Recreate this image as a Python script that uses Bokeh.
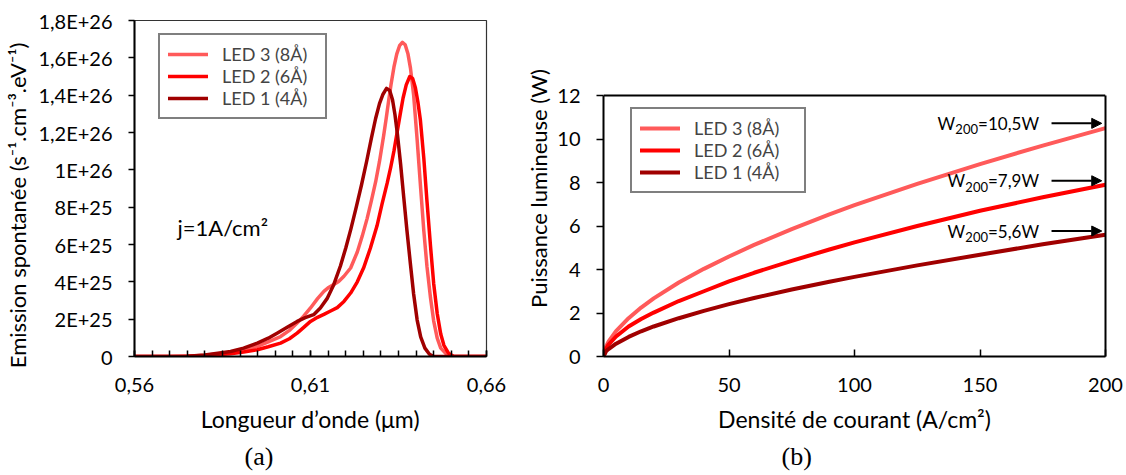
from bokeh.plotting import figure
from bokeh.layouts import row
from bokeh.models import (FixedTicker, CustomJSTickFormatter, Label, Legend, LegendItem,
                          Arrow, NormalHead, Range1d, Span, LinearAxis, Title)
from bokeh.embed import file_html
from bokeh.resources import INLINE

FONT = "Lato"
SERIF = "Liberation Serif"

# ---------------- data ----------------
series_names = ["LED 3 (8Å)", "LED 2 (6Å)", "LED 1 (4Å)"]
colors = ["#FF5A5A", "#FF0000", "#A00000"]

# panel (a): spontaneous emission vs wavelength, values in units of 1E+25
wl_led3 = [0.560, 0.570, 0.575, 0.580, 0.5873, 0.591, 0.5949, 0.598, 0.6015, 0.604, 0.6062,
           0.608, 0.6100, 0.612, 0.6138, 0.615, 0.6166, 0.6180, 0.6195, 0.6214, 0.6233,
           0.6247, 0.6261, 0.6273, 0.6285, 0.6296, 0.6308, 0.6315, 0.6322, 0.6329, 0.6337,
           0.6345, 0.6353, 0.6361, 0.6369, 0.6377, 0.6384, 0.6393, 0.6403, 0.6413, 0.6422,
           0.6431, 0.6441, 0.6450, 0.6460, 0.6470, 0.6488, 0.6500, 0.6510, 0.660]
em_led3 = [0.0, 0.0, 0.02, 0.07, 0.22, 0.35, 0.54, 0.78, 1.07, 1.40, 1.79,
           2.15, 2.60, 3.10, 3.49, 3.68, 3.85, 4.02, 4.30, 4.74, 5.60,
           6.45, 7.40, 8.35, 9.35, 10.45, 11.85, 12.75, 13.70, 14.60, 15.50,
           16.20, 16.65, 16.83, 16.70, 16.20, 15.45, 14.00, 11.60, 9.00, 6.72,
           4.80, 3.13, 1.90, 0.98, 0.45, 0.09, 0.02, 0.0, 0.0]

wl_led2 = [0.560, 0.570, 0.575, 0.580, 0.5873, 0.591, 0.5949, 0.598, 0.6015, 0.604, 0.6062,
           0.608, 0.6100, 0.612, 0.6138, 0.6157, 0.6176, 0.6195, 0.6214, 0.6233, 0.6251,
           0.6270, 0.6289, 0.6303, 0.6318, 0.6328, 0.6337, 0.6346, 0.6355, 0.6363, 0.6372,
           0.6382, 0.6390, 0.6398, 0.6405, 0.6412, 0.6422, 0.6431, 0.6441, 0.6450, 0.6460,
           0.6470, 0.6479, 0.6492, 0.6507, 0.660]
em_led2 = [0.0, 0.0, 0.01, 0.04, 0.15, 0.24, 0.36, 0.52, 0.72, 0.95, 1.25,
           1.55, 1.88, 2.10, 2.26, 2.44, 2.62, 2.95, 3.40, 4.00, 4.75,
           5.80, 7.00, 8.15, 9.30, 10.15, 11.00, 12.00, 13.00, 13.85, 14.55,
           15.00, 14.90, 14.40, 13.65, 12.70, 10.60, 8.30, 5.90, 3.90, 2.30,
           1.20, 0.60, 0.18, 0.0, 0.0]

wl_led1 = [0.560, 0.570, 0.575, 0.580, 0.5873, 0.591, 0.5949, 0.598, 0.6005, 0.6035, 0.6062,
           0.6085, 0.6109, 0.6128, 0.6147, 0.6166, 0.6185, 0.6200, 0.6215, 0.6230, 0.6245,
           0.6260, 0.6273, 0.6285, 0.6296, 0.6306, 0.6316, 0.6325, 0.6333, 0.6340, 0.6347,
           0.6356, 0.6365, 0.6374, 0.6384, 0.6393, 0.6403, 0.6413, 0.6425, 0.6438, 0.6450,
           0.660]
em_led1 = [0.0, 0.0, 0.02, 0.08, 0.27, 0.45, 0.72, 0.98, 1.25, 1.58, 1.88,
           2.08, 2.24, 2.60, 3.10, 3.85, 4.85, 5.80, 6.85, 8.00, 9.20,
           10.50, 11.70, 12.75, 13.55, 14.05, 14.36, 14.25, 13.75, 12.95, 11.90,
           10.30, 8.51, 6.75, 4.93, 3.35, 1.95, 1.05, 0.45, 0.12, 0.0,
           0.0]

x_ticks_a = [0.56, 0.61, 0.66]
y_ticks_a = [0, 2, 4, 6, 8, 10, 12, 14, 16, 18]
y_labels_a = ["0", "2E+25", "4E+25", "6E+25", "8E+25", "1E+26", "1,2E+26", "1,4E+26",
              "1,6E+26", "1,8E+26"]

# panel (b): light power vs current density
j_density = [0, 1, 2, 5, 10, 15, 20, 30, 40, 50, 60, 75, 90, 100, 125, 150, 175, 200]
p_led3 = [0.0, 0.45, 0.68, 1.17, 1.76, 2.25, 2.67, 3.40, 4.03, 4.60, 5.13, 5.86, 6.54, 6.96,
          7.94, 8.85, 9.70, 10.50]
p_led2 = [0.0, 0.35, 0.55, 0.92, 1.38, 1.72, 2.02, 2.55, 3.00, 3.45, 3.85, 4.40, 4.92, 5.25,
          6.00, 6.70, 7.32, 7.90]
p_led1 = [0.0, 0.24, 0.34, 0.59, 0.90, 1.16, 1.38, 1.76, 2.10, 2.41, 2.69, 3.08, 3.44, 3.66,
          4.19, 4.68, 5.16, 5.60]
w200_values = ["10,5", "7,9", "5,6"]

x_ticks_b = [0, 50, 100, 150, 200]
y_ticks_b = [0, 2, 4, 6, 8, 10, 12]

TOP = 20
BOTTOM = 119
HEIGHT = 475


def style_axes(p):
    p.xgrid.visible = False
    p.ygrid.visible = False
    for ax in (p.xaxis[0], p.yaxis[0]):
        ax.axis_line_width = 2
        ax.axis_line_color = "black"
        ax.major_tick_line_width = 1.5
        ax.major_tick_line_color = "black"
        ax.minor_tick_line_width = 1.5
        ax.minor_tick_line_color = "black"
        ax.major_label_text_font = FONT
        ax.major_label_text_font_size = "20px"
        ax.major_label_text_color = "black"
        ax.axis_label_text_font = FONT
        ax.axis_label_text_font_size = "23px"
        ax.axis_label_text_font_style = "normal"
        ax.axis_label_text_color = "black"
    p.xaxis.major_tick_in = 6
    p.xaxis.major_tick_out = 0
    p.xaxis.minor_tick_in = 6
    p.xaxis.minor_tick_out = 0
    p.xaxis.major_label_standoff = 21
    p.xaxis.axis_label_standoff = 10
    p.yaxis.major_tick_in = 0
    p.yaxis.major_tick_out = 6
    p.yaxis.minor_tick_in = 0
    p.yaxis.minor_tick_out = 0
    p.yaxis.major_label_standoff = 16


def make_legend(items, loc, label_width):
    lg = Legend(items=items, location=loc)
    lg.border_line_color = "black"
    lg.border_line_width = 2
    lg.label_text_font = FONT
    lg.label_text_font_size = "18px"
    lg.glyph_width = 40
    lg.glyph_height = 18
    lg.label_height = 18
    lg.label_width = label_width
    lg.label_standoff = 14
    lg.spacing = -4
    lg.padding = 8
    lg.margin = 0
    lg.background_fill_alpha = 1
    return lg


def caption(p, text, offset):
    t = Title(text=text, align="left", offset=offset, text_font=SERIF, text_font_size="26px",
              text_font_style="normal", text_color="black", standoff=8)
    p.add_layout(t, "below")


# ---------------- panel (a) ----------------
pa = figure(width=511, height=HEIGHT, x_range=Range1d(0.56, 0.66), y_range=Range1d(0, 18),
            output_backend="svg", toolbar_location=None,
            min_border_left=134, min_border_right=25, min_border_top=TOP,
            min_border_bottom=BOTTOM)
pa.outline_line_color = "#333333"
pa.outline_line_width = 1.2
style_axes(pa)
pa.xaxis.ticker = FixedTicker(ticks=x_ticks_a,
                              minor_ticks=[0.56 + 0.005 * i for i in range(21)])
pa.xaxis.formatter = CustomJSTickFormatter(code="return tick.toFixed(2).replace('.', ',');")
pa.yaxis.ticker = FixedTicker(ticks=y_ticks_a)
pa.yaxis.formatter = CustomJSTickFormatter(args=dict(labels=y_labels_a),
                                           code="return labels[Math.round(tick / 2)];")
pa.xaxis.axis_label = "Longueur d’onde (μm)"
# trailing no-break spaces push the visible label slightly lower, as in the reference
pa.yaxis.axis_label = "Emission spontanée (s⁻¹.cm⁻³.eV⁻¹)" + "\u00a0" * 6
pa.yaxis.axis_label_text_font_size = "22px"
pa.yaxis.axis_label_standoff = 4

ra = []
for wl, em, c in zip([wl_led3, wl_led2, wl_led1], [em_led3, em_led2, em_led1], colors):
    ra.append(pa.line(wl, em, line_color=c, line_width=3.5, line_join="round", line_cap="round"))

pa.add_layout(make_legend([LegendItem(label=n, renderers=[r]) for n, r in zip(series_names, ra)],
                          (24, 237), 95))
pa.add_layout(Label(x=0.5722, y=6.9, text="j=1A/cm²", text_baseline="middle",
                    text_font=FONT, text_font_size="22px", text_color="black"))
caption(pa, "(a)", 110)

# ---------------- panel (b) ----------------
# the frame spans the same height as panel (a); the visible box ends at 12 W
pb = figure(width=615, height=HEIGHT, x_range=Range1d(0, 200), y_range=Range1d(0, 15.45),
            output_backend="svg", toolbar_location=None,
            min_border_left=92, min_border_right=21, min_border_top=TOP,
            min_border_bottom=BOTTOM)
pb.outline_line_color = None
style_axes(pb)
pb.xaxis.ticker = FixedTicker(ticks=x_ticks_b)
pb.yaxis.ticker = FixedTicker(ticks=y_ticks_b)
pb.yaxis.bounds = (0, 12)
pb.xaxis.major_tick_in = 7
pb.yaxis.major_tick_out = 7
pb.xaxis.axis_label = "Densité de courant (A/cm²)"
pb.yaxis.axis_label = "Puissance lumineuse (W)"
pb.yaxis.axis_label_text_font_size = "22px"
pb.yaxis.axis_label_standoff = 2

right_ax = LinearAxis(bounds=(0, 12), ticker=FixedTicker(ticks=[]), axis_line_width=2,
                      axis_line_color="black", major_tick_out=0, major_tick_in=0,
                      minor_tick_out=0, minor_tick_in=0, major_label_text_font_size="0px")
pb.add_layout(right_ax, "right")
pb.add_layout(Span(location=12, dimension="width", line_color="black", line_width=2))

rb = []
for pw, c in zip([p_led3, p_led2, p_led1], colors):
    rb.append(pb.line(j_density, pw, line_color=c, line_width=4, line_join="round",
                      line_cap="round"))

pb.add_layout(make_legend([LegendItem(label=n, renderers=[r]) for n, r in zip(series_names, rb)],
                          (27, 163), 102))

# W200 annotations: main text, lowered "200" subscript and leading "W"
ann_y = [10.72, 8.08, 5.77]
ann_tail_w = [61, 51, 51]   # approx. pixel width of the "=...W" part
for v, yy, tw in zip(w200_values, ann_y, ann_tail_w):
    common = dict(y=yy, x=173.5, text_align="right", text_baseline="middle",
                  text_font=FONT, text_color="black")
    pb.add_layout(Label(text="=" + v + "W", text_font_size="17px", **common))
    pb.add_layout(Label(text="200", text_font_size="13px", x_offset=-tw, y_offset=-6, **common))
    pb.add_layout(Label(text="W", text_font_size="17px", x_offset=-(tw + 23), **common))
    pb.add_layout(Arrow(end=NormalHead(size=10, fill_color="black", line_color="black"),
                        x_start=178.5, y_start=yy, x_end=198.5, y_end=yy,
                        line_width=2, line_color="black"))

caption(pb, "(b)", 178)

layout = row(pa, pb)
open("out.html", "w").write(file_html(layout, INLINE))
